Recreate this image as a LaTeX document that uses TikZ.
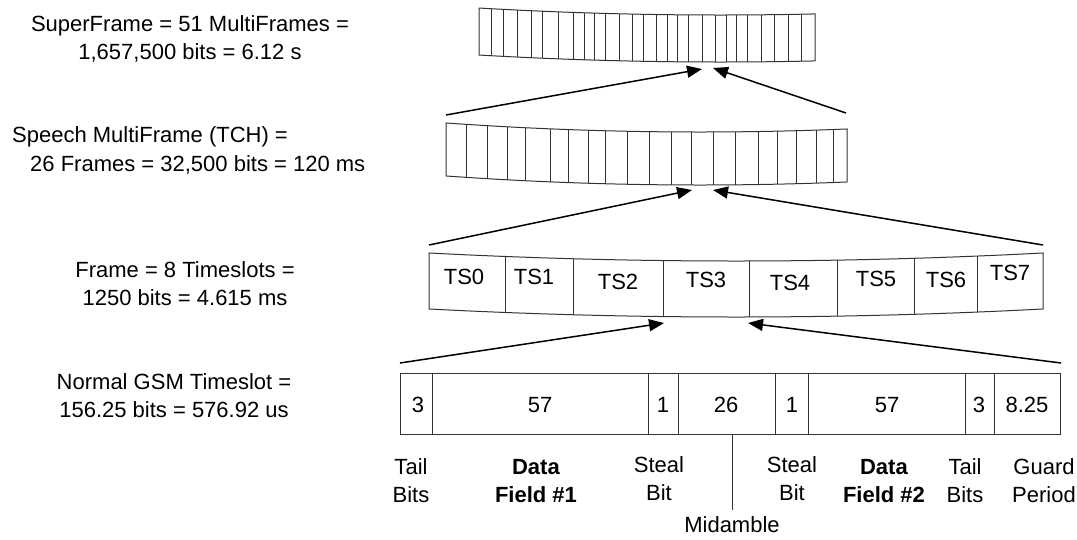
\documentclass[tikz,border=0pt]{standalone}
\usepackage{fontspec}
\setmainfont{Liberation Sans}
\usetikzlibrary{arrows.meta}
\begin{document}
\begin{tikzpicture}[x=1pt,y=-1pt,
  strip/.style={draw=black!80, line width=1pt},
  conn/.style={draw=black, line width=1.5pt, -{Triangle[length=15pt,width=12pt]}},
  lbl/.style={font=\fontsize{22}{28}\selectfont, inner sep=0pt, align=center},
  lbll/.style={font=\fontsize{22}{28}\selectfont, inner sep=0pt, anchor=west},
  ]
\useasboundingbox (0,0) rectangle (1077,539);

% ---------- SuperFrame strip ----------
\draw[strip] plot[domain=479:815,samples=80] (\x,{15-1.2*((\x-720)/100)^2})
  -- plot[domain=815:479,samples=80] (\x,{62-1.2*((\x-720)/100)^2}) -- cycle;
\foreach \x in {491,503,517,531,542,558,573,584,594,605,619,632,643,656,667,677,688,702,715,726,736,747,761,774,788,801}
  \draw[strip] (\x,{15-1.2*((\x-720)/100)^2}) -- (\x,{62-1.2*((\x-720)/100)^2});

% ---------- MultiFrame strip ----------
\draw[strip] plot[domain=446:847,samples=80] (\x,{132-1.4*((\x-700)/100)^2})
  -- plot[domain=847:446,samples=80] (\x,{185-1.4*((\x-700)/100)^2}) -- cycle;
\foreach \x in {466,487,507,525,550,568,588,605,627,649,671,691,713,735,758,777,796,816,833}
  \draw[strip] (\x,{132-1.4*((\x-700)/100)^2}) -- (\x,{185-1.4*((\x-700)/100)^2});

% ---------- Frame strip ----------
\draw[strip] plot[domain=429:1043,samples=100] (\x,{261-0.85*((\x-736)/100)^2})
  -- plot[domain=1043:429,samples=100] (\x,{317-0.85*((\x-736)/100)^2}) -- cycle;
\foreach \x in {505,573,663,749,837,914,977}
  \draw[strip] (\x,{261-0.85*((\x-736)/100)^2}) -- (\x,{317-0.85*((\x-736)/100)^2});
\foreach \n/\x/\y in {TS0/464/277,TS1/534/277,TS2/618/282,TS3/706/280,TS4/790/283,TS5/876/279,TS6/946/280,TS7/1010/273}
  \node[lbl] (\n) at (\x,\y) {\n};

% ---------- Timeslot box ----------
\draw[strip] (400,373) rectangle (1060,434);
\foreach \x in {432,648,678,775,808,965,994}
  \draw[strip] (\x,373) -- (\x,434);
\node[lbl] (f1) at (418,405) {3};
\node[lbl] (f2) at (540,405) {57};
\node[lbl] (f3) at (663,405) {1};
\node[lbl] (f4) at (726,405) {26};
\node[lbl] (f5) at (792,405) {1};
\node[lbl] (f6) at (887,405) {57};
\node[lbl] (f7) at (979,405) {3};
\node[lbl] (f8) at (1027,405) {8.25};

% ---------- field labels ----------
\node[lbl] (l1) at (411,481) {Tail\\Bits};
\node[lbl] (l2) at (536,481) {\textbf{Data}\\\textbf{Field \#1}};
\node[lbl] (l3) at (659,479) {Steal\\Bit};
\node[lbl] (l4) at (792,479) {Steal\\Bit};
\node[lbl] (l5) at (884,481) {\textbf{Data}\\\textbf{Field \#2}};
\node[lbl] (l6) at (965,481) {Tail\\Bits};
\node[lbl] (l7) at (1044,481) {Guard\\Period};
\coordinate (midtop) at (732,434);
\coordinate (midbot) at (732,510);
\draw[strip, line width=0.8pt] (midtop) -- (midbot);
\node[lbl] (mid) at (732,525) {Midamble};

% ---------- left texts ----------
\node[lbl] (t1) at (190,39) {SuperFrame = 51 MultiFrames =\\1,657,500 bits = 6.12 s};
\node[lbll] (t2a) at (12,137) {Speech MultiFrame (TCH) =};
\node[lbll] (t2b) at (30,165) {26 Frames = 32,500 bits = 120 ms};
\node[lbl] (t3) at (185,284) {Frame = 8 Timeslots =\\1250 bits = 4.615 ms};
\node[lbl] (t4) at (174,396) {Normal GSM Timeslot =\\156.25 bits = 576.92 us};

% ---------- connectors ----------
\coordinate (a1s) at (446,115);
\coordinate (a1e) at (702,69);
\coordinate (a2s) at (846,113);
\coordinate (a2e) at (713,68);
\coordinate (b1s) at (429,245);
\coordinate (b1e) at (692,190);
\coordinate (b2s) at (1043,245);
\coordinate (b2e) at (713,190);
\coordinate (c1s) at (400,363);
\coordinate (c1e) at (664,323);
\coordinate (c2s) at (1061,363);
\coordinate (c2e) at (748,323);
\draw[conn] (a1s) -- (a1e);
\draw[conn] (a2s) -- (a2e);
\draw[conn] (b1s) -- (b1e);
\draw[conn] (b2s) -- (b2e);
\draw[conn] (c1s) -- (c1e);
\draw[conn] (c2s) -- (c2e);
\end{tikzpicture}
\end{document}
